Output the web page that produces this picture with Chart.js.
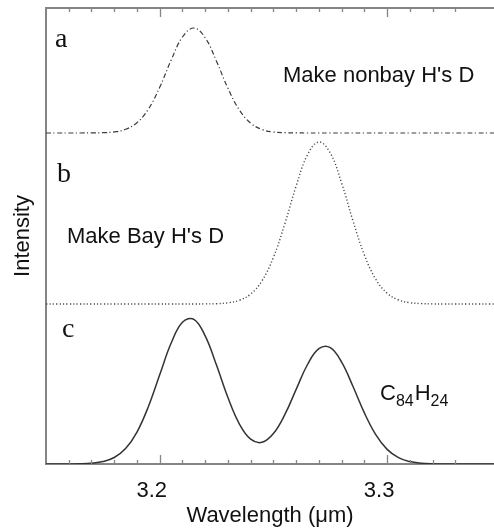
<!DOCTYPE html>
<html>
<head>
<meta charset="utf-8">
<script src="https://cdn.jsdelivr.net/npm/chart.js@4.4.0/dist/chart.umd.min.js"></script>
<style>
  html, body { margin: 0; padding: 0; background: #fff; }
</style>
</head>
<body>
<canvas id="spectrum" width="494" height="531"></canvas>
<script>
// Wavelength grid (µm) and the three stacked spectra
const wavelength = [3.150, 3.155, 3.160, 3.165, 3.170, 3.175, 3.180, 3.185, 3.190, 3.195,
                    3.200, 3.205, 3.210, 3.215, 3.220, 3.225, 3.230, 3.235, 3.240, 3.245,
                    3.250, 3.255, 3.260, 3.265, 3.270, 3.275, 3.280, 3.285, 3.290, 3.295,
                    3.300, 3.305, 3.310, 3.315, 3.320, 3.325, 3.330, 3.335, 3.340, 3.345, 3.350];

// a: nonbay H's deuterated (offset trace at top)
const nonbayD = [3.310, 3.310, 3.310, 3.310, 3.311, 3.313, 3.321, 3.347, 3.413, 3.548,
                 3.767, 4.037, 4.270, 4.360, 4.262, 4.026, 3.757, 3.541, 3.409, 3.345,
                 3.320, 3.313, 3.311, 3.310, 3.310, 3.310, 3.310, 3.310, 3.310, 3.310,
                 3.310, 3.310, 3.310, 3.310, 3.310, 3.310, 3.310, 3.310, 3.310, 3.310, 3.310];

// b: bay H's deuterated (offset trace in the middle)
const bayD = [1.600, 1.600, 1.600, 1.600, 1.600, 1.600, 1.600, 1.600, 1.600, 1.600,
              1.600, 1.600, 1.600, 1.600, 1.601, 1.603, 1.612, 1.637, 1.700, 1.833,
              2.066, 2.400, 2.779, 3.092, 3.220, 3.110, 2.809, 2.431, 2.090, 1.848,
              1.708, 1.640, 1.613, 1.604, 1.601, 1.600, 1.600, 1.600, 1.600, 1.600, 1.600];

// c: C84H24 (bottom trace)
const c84h24 = [0.000, 0.000, 0.001, 0.002, 0.008, 0.024, 0.065, 0.154, 0.319, 0.573,
                0.892, 1.207, 1.418, 1.447, 1.281, 0.987, 0.664, 0.402, 0.248, 0.217,
                0.304, 0.493, 0.746, 0.995, 1.154, 1.164, 1.019, 0.775, 0.511, 0.293,
                0.146, 0.063, 0.024, 0.008, 0.002, 0.001, 0.000, 0.000, 0.000, 0.000, 0.000];

const xTickLabels = [3.2, 3.3];

const AXIS_COLOR = '#858585';
const INK = '#111';
const SANS = '"Liberation Sans", Arial, sans-serif';
const SERIF = '"Liberation Serif", "Times New Roman", serif';

function toPoints(ys) {
    return wavelength.map((x, i) => ({ x: x, y: ys[i] }));
}

function isLabelled(v) {
    return xTickLabels.some(t => Math.abs(t - v) < 1e-6);
}

// Inward ticks on bottom and top, top frame line, and the panel texts
const framePlugin = {
    id: 'frame',
    afterDraw(chart) {
        const ctx = chart.ctx;
        const area = chart.chartArea;
        const xs = chart.scales.x;
        ctx.save();
        ctx.strokeStyle = AXIS_COLOR;
        ctx.lineWidth = 2;
        ctx.beginPath();
        ctx.moveTo(area.left - 1, area.top);
        ctx.lineTo(area.right, area.top);
        ctx.stroke();

        ctx.lineWidth = 1.3;
        xs.ticks.forEach(t => {
            const v = t.value;
            if (Math.abs(v * 100 - Math.round(v * 100)) > 1e-6) return;
            const px = Math.round(xs.getPixelForValue(v)) + 0.5;
            if (px <= area.left + 2) return;
            const len = isLabelled(v) ? 9 : 4;
            ctx.beginPath();
            ctx.moveTo(px, area.bottom);
            ctx.lineTo(px, area.bottom - len);
            ctx.moveTo(px, area.top);
            ctx.lineTo(px, area.top + len);
            ctx.stroke();
        });

        ctx.fillStyle = INK;
        ctx.textBaseline = 'alphabetic';
        ctx.textAlign = 'left';
        ctx.font = '28px ' + SERIF;
        ctx.fillText('a', 55, 47);
        ctx.fillText('b', 57, 182);
        ctx.fillText('c', 62, 337);

        ctx.font = '22px ' + SANS;
        ctx.fillText("Make nonbay H's D", 283, 82);
        ctx.fillText("Make Bay H's D", 67, 243);

        // C84H24 with subscripts
        let x = 380;
        const parts = [['C', false], ['84', true], ['H', false], ['24', true]];
        parts.forEach(([s, sub]) => {
            ctx.font = (sub ? '16px ' : '22px ') + SANS;
            ctx.fillText(s, x, sub ? 406 : 400);
            x += ctx.measureText(s).width + (sub ? 1 : 0);
        });
        ctx.restore();
    }
};

new Chart(document.getElementById('spectrum').getContext('2d'), {
    type: 'line',
    data: {
        datasets: [
            {
                label: "Make nonbay H's D",
                data: toPoints(nonbayD),
                borderColor: '#3c3c3c',
                borderWidth: 1.2,
                borderDash: [5, 2.5, 1.2, 2.5],
                pointRadius: 0,
                tension: 0.4
            },
            {
                label: "Make Bay H's D",
                data: toPoints(bayD),
                borderColor: '#4a4a4a',
                borderWidth: 1.4,
                borderDash: [1.2, 2.2],
                pointRadius: 0,
                tension: 0.4
            },
            {
                label: 'C84H24',
                data: toPoints(c84h24),
                borderColor: '#333',
                borderWidth: 1.5,
                pointRadius: 0,
                tension: 0.4
            }
        ]
    },
    options: {
        responsive: false,
        animation: false,
        layout: { padding: { top: 8, right: 0, left: 0, bottom: 0 } },
        plugins: {
            legend: { display: false },
            tooltip: { enabled: false }
        },
        scales: {
            x: {
                type: 'linear',
                min: 3.15,
                max: 3.347,
                afterFit: s => { s.height = 67; s.paddingLeft = 0; s.paddingRight = 0; },
                ticks: {
                    stepSize: 0.01,
                    autoSkip: false,
                    maxRotation: 0,
                    labelOffset: -8,
                    padding: 14,
                    color: INK,
                    font: { size: 22, family: SANS },
                    callback: v => isLabelled(v) ? v.toFixed(1) : ''
                },
                grid: { display: true, drawOnChartArea: false, drawTicks: false },
                border: { display: true, color: AXIS_COLOR, width: 2 },
                title: {
                    display: true,
                    text: 'Wavelength (μm)',
                    color: INK,
                    font: { size: 22, family: SANS },
                    padding: { top: 0, bottom: 2 }
                }
            },
            y: {
                min: 0,
                max: 4.56,
                afterFit: s => { s.width = 46; },
                ticks: { display: false },
                grid: { display: true, drawOnChartArea: false, drawTicks: false },
                border: { display: true, color: AXIS_COLOR, width: 2 },
                title: {
                    display: true,
                    text: 'Intensity',
                    color: INK,
                    font: { size: 22, family: SANS },
                    padding: { top: 10, bottom: 0 }
                }
            }
        }
    },
    plugins: [framePlugin]
});
</script>
</body>
</html>
